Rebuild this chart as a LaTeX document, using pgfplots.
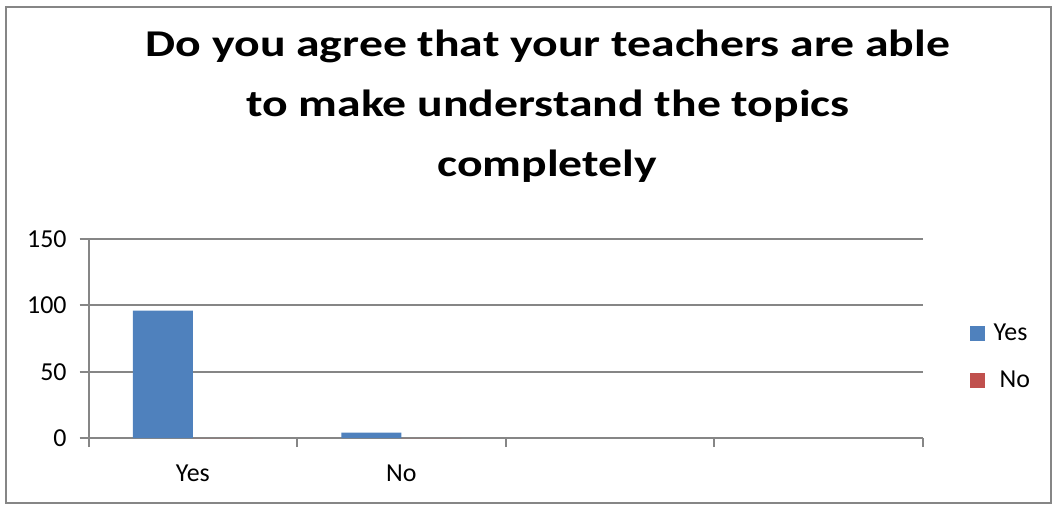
\documentclass[border=0pt]{standalone}
\usepackage{pgfplots}
\pgfplotsset{compat=1.18}
\usepackage{graphicx}
\usepackage{fontspec}
\setmainfont{Carlito}
\definecolor{barblue}{HTML}{4F81BD}
\definecolor{barred}{HTML}{C0504D}
\definecolor{axgray}{HTML}{868686}
\begin{document}
\begin{tikzpicture}[x=1bp,y=1bp]
\path[use as bounding box] (0,0) rectangle (526.5,253.5);
\draw[axgray, line width=1.2bp] (3,2) rectangle (525.5,250);
\node[font=\fontsize{19}{30}\selectfont\bfseries, anchor=base] at (274,225.5) {\scalebox{1.26}[1]{Do you agree that your teachers are able}};
\node[font=\fontsize{19}{30}\selectfont\bfseries, anchor=base] at (274,195.5) {\scalebox{1.26}[1]{to make understand the topics}};
\node[font=\fontsize{19}{30}\selectfont\bfseries, anchor=base] at (273.5,165.5) {\scalebox{1.26}[1]{completely}};
\begin{axis}[
  at={(42.5,52)}, anchor=south west,
  scale only axis, width=417bp, height=99.5bp,
  xmin=-0.5, xmax=3.5, ymin=0, ymax=150,
  ytick={0,50,100,150},
  xtick={-0.5,0.5,1.5,2.5,3.5},
  x tick label as interval,
  xticklabels={Yes,No,{},{}},
  ymajorgrids, grid style={axgray, line width=0.9bp},
  axis x line*=bottom, axis y line*=left,
  axis line style={axgray, line width=0.9bp, -},
  tick align=outside, major tick length=4.5bp,
  tick style={axgray, line width=0.9bp},
  every tick label/.append style={font=\fontsize{13}{15.6}\selectfont, text=black},
  /pgf/number format/assume math mode=true,
  yticklabel style={xshift=-3bp},
  xticklabel style={yshift=-5.5bp},
  ybar=0pt, bar width=30bp,
  legend style={draw=none, fill=none, at={(1.095,0.407)}, anchor=center,
    font=\fontsize{13}{15.6}\selectfont, row sep=10bp},
  legend cell align=left,
]
\addplot[fill=barblue, draw=none,
  legend image code/.code={\fill[barblue] (0bp,-3.75bp) rectangle (7.5bp,3.75bp); \path (10bp,0);}]
  coordinates {(0,96) (1,4)};
\addplot[fill=barred, draw=none,
  legend image code/.code={\fill[barred] (0bp,-3.75bp) rectangle (7.5bp,3.75bp); \path (10bp,0);}]
  coordinates {(0,0) (1,0)};
\legend{Yes,\hspace*{3bp}No}
\end{axis}
\end{tikzpicture}
\end{document}
